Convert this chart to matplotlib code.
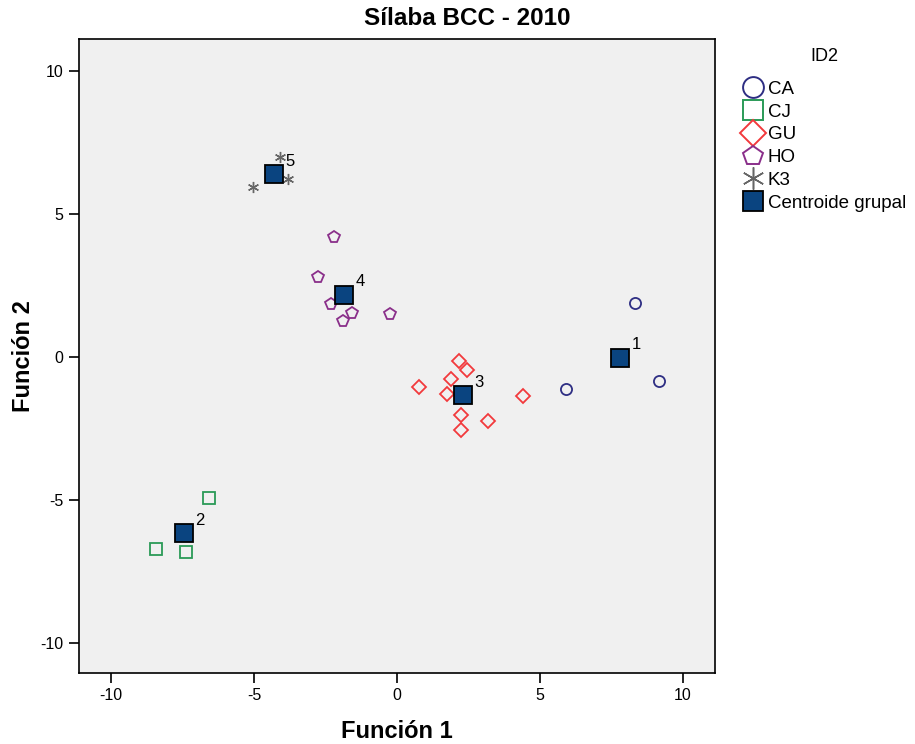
import matplotlib
matplotlib.use("Agg")
import matplotlib.pyplot as plt
from matplotlib.lines import Line2D

plt.rcParams['font.family'] = ['Liberation Sans', 'DejaVu Sans']
plt.rcParams['axes.unicode_minus'] = False

# discriminant scores per group (Funcion 1, Funcion 2)
ca_x = [8.31, 9.17, 5.91]
ca_y = [1.88, -0.86, -1.12]

cj_x = [-6.58, -8.44, -7.38]
cj_y = [-4.95, -6.71, -6.84]

gu_x = [2.16, 2.45, 1.88, 0.78, 1.74, 4.39, 2.24, 3.18, 2.25]
gu_y = [-0.15, -0.47, -0.77, -1.07, -1.29, -1.37, -2.05, -2.25, -2.56]

ho_x = [-2.21, -2.75, -2.31, -1.57, -1.90, -0.26]
ho_y = [4.17, 2.79, 1.85, 1.53, 1.24, 1.49]

k3_x = [-4.09, -3.80, -5.05]
k3_y = [7.00, 6.21, 5.94]

# group centroids, labelled 1..5
cent_labels = ['1', '2', '3', '4', '5']
cent_x = [7.81, -7.46, 2.32, -1.84, -4.29]
cent_y = [-0.03, -6.16, -1.35, 2.17, 6.39]

groups = ['CA', 'CJ', 'GU', 'HO', 'K3']
colors = ['#2e2e83', '#2a9a57', '#f2393c', '#8a2f8a', '#666666']
markers = ['o', 's', 'D', 'p', (6, 2, 0)]
sizes = [8, 8, 7.4, 8.5, 8]
widths = [1.3, 1.3, 1.3, 1.3, 1.0]
cent_color = '#0a4480'

fig = plt.figure(figsize=(9.15, 7.44), dpi=100)
ax = fig.add_axes([0.0863, 0.0954, 0.6951, 0.8522])
ax.set_facecolor('#f0f0f0')

data = [(ca_x, ca_y), (cj_x, cj_y), (gu_x, gu_y), (ho_x, ho_y), (k3_x, k3_y)]
for (xs, ys), col, mk, ms, mw in zip(data, colors, markers, sizes, widths):
    ax.plot(xs, ys, linestyle='none', marker=mk, markersize=ms,
            markerfacecolor='none', markeredgecolor=col, markeredgewidth=mw)

ax.plot(cent_x, cent_y, linestyle='none', marker='s', markersize=12.5,
        markerfacecolor=cent_color, markeredgecolor='black', markeredgewidth=1.3)
for lab, cx, cy in zip(cent_labels, cent_x, cent_y):
    ax.annotate(lab, (cx, cy), xytext=(8, 6), textcoords='offset points',
                fontsize=12)

ax.set_xlim(-11.12, 11.12)
ax.set_ylim(-11.06, 11.11)
ax.set_xticks([-10, -5, 0, 5, 10])
ax.set_yticks([-10, -5, 0, 5, 10])
ax.tick_params(direction='out', length=7, width=1.2, labelsize=11.5, pad=4)
for sp in ax.spines.values():
    sp.set_linewidth(1.2)

ax.set_xlabel('Función 1', fontsize=17, fontweight='bold', labelpad=12)
ax.set_ylabel('Función 2', fontsize=17, fontweight='bold', labelpad=4)
fig.text(0.511, 0.975, 'Sílaba BCC - 2010', fontsize=17.5, fontweight='bold',
         ha='center', va='center')

handles = []
for col, mk, ms, mw in zip(colors, markers, [15, 15, 13, 15, 16], widths):
    handles.append(Line2D([], [], linestyle='none', marker=mk, markersize=ms,
                          markerfacecolor='none', markeredgecolor=col,
                          markeredgewidth=mw + 0.1))
handles.append(Line2D([], [], linestyle='none', marker='s', markersize=14,
                      markerfacecolor=cent_color, markeredgecolor='black',
                      markeredgewidth=1.3))
leg = fig.legend(handles, groups + ['Centroide grupal'], title='ID2',
                 loc='upper left', bbox_to_anchor=(0.803, 0.945),
                 frameon=False, fontsize=13.5, title_fontsize=13,
                 handletextpad=0.15, labelspacing=0.3, handlelength=1.2,
                 borderaxespad=0)
leg._legend_box.sep = 11

fig.savefig('out.png', dpi=100)
